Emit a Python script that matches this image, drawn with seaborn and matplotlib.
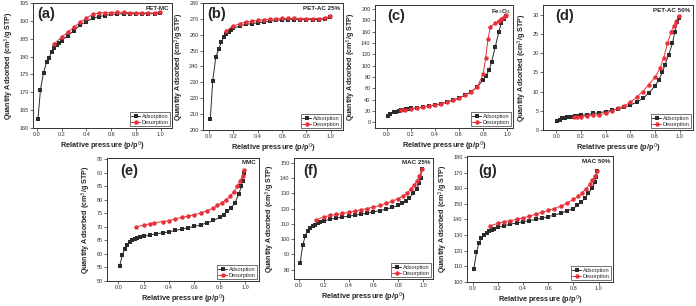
import matplotlib
matplotlib.use("Agg")
import matplotlib.pyplot as plt
import seaborn as sns

# (a) PET-MC
a_ads_x = [0.01, 0.03, 0.055, 0.08, 0.1, 0.12, 0.14, 0.16, 0.18, 0.2, 0.25, 0.3, 0.35, 0.4, 0.45, 0.5,
           0.55, 0.6, 0.65, 0.7, 0.75, 0.8, 0.85, 0.9, 0.95, 0.99]
a_ads_y = [162.5, 170.7, 175.5, 178.5, 179.7, 181.3, 182.3, 183.2, 183.8, 184.5, 185.8, 187.3, 188.8, 189.8,
           190.7, 191.2, 191.5, 191.8, 191.9, 192.0, 192.0, 192.0, 192.0, 192.0, 192.0, 192.3]
a_des_x = [0.14, 0.2, 0.25, 0.3, 0.35, 0.4, 0.45, 0.5, 0.55, 0.6, 0.65, 0.7, 0.75, 0.8, 0.85, 0.9, 0.95, 0.99]
a_des_y = [183.5, 185.5, 186.8, 188.2, 189.6, 190.8, 191.8, 192.2, 192.3, 192.3, 192.4, 192.4, 192.3, 192.3,
           192.2, 192.2, 192.2, 192.5]

# (b) PET-AC 25%
b_ads_x = a_ads_x
b_ads_y = [207, 231, 246, 251, 255.5, 258.5, 260.5, 262, 263, 264, 265.5, 266.5, 267, 267.5, 268, 268.5,
           269, 269.3, 269.5, 269.5, 269.5, 269.5, 269.5, 269.5, 270, 271]
b_des_x = a_des_x
b_des_y = [262.5, 265.5, 267, 268, 268.5, 269, 269.5, 269.8, 270, 270.3, 270.3, 270.3, 270.2, 270.2, 270.2,
           270.2, 270.5, 271.5]

# (c) Fe3O4
c_ads_x = [0.01, 0.03, 0.06, 0.08, 0.1, 0.12, 0.14, 0.16, 0.18, 0.2, 0.25, 0.3, 0.35, 0.4, 0.45, 0.5, 0.55,
           0.6, 0.65, 0.7, 0.75, 0.8, 0.82, 0.85, 0.87, 0.9, 0.93, 0.95, 0.97, 0.99]
c_ads_y = [12, 15, 18, 19, 20, 21, 22, 23, 24, 24.5, 25.5, 27, 29, 30.5, 32.5, 36, 39, 43, 48, 54, 62, 75,
           82, 92, 107, 133, 160, 175, 182, 188]
c_des_x = [0.12, 0.15, 0.2, 0.25, 0.3, 0.35, 0.4, 0.45, 0.5, 0.55, 0.6, 0.65, 0.7, 0.75, 0.8, 0.82, 0.84,
           0.86, 0.9, 0.93, 0.95, 0.97, 0.99]
c_des_y = [21, 22, 24, 25, 27, 29, 31, 33, 36, 39, 43, 48, 54, 62, 85, 113, 147, 169, 175, 179, 182, 185, 190]

# (d) PET-AC 50%
d_ads_x = [0.01, 0.03, 0.05, 0.07, 0.09, 0.11, 0.13, 0.15, 0.17, 0.2, 0.25, 0.3, 0.35, 0.4, 0.45, 0.5, 0.55,
           0.6, 0.65, 0.7, 0.75, 0.8, 0.83, 0.86, 0.88, 0.91, 0.94, 0.96, 0.98, 0.99]
d_ads_y = [2.3, 2.7, 3.0, 3.2, 3.3, 3.4, 3.5, 3.6, 3.7, 3.8, 4.0, 4.3, 4.5, 4.8, 5.1, 5.5, 5.9, 6.5, 7.2, 8.2,
           9.6, 11.5, 13, 15, 17, 19.5, 22.5, 25.5, 28, 29]
d_des_x = [0.14, 0.17, 0.2, 0.25, 0.3, 0.35, 0.4, 0.45, 0.5, 0.55, 0.6, 0.65, 0.7, 0.75, 0.8, 0.84, 0.87, 0.9,
           0.93, 0.95, 0.97, 0.99]
d_des_y = [3.3, 3.4, 3.5, 3.7, 3.8, 4.0, 4.3, 5.0, 5.6, 6.3, 7.2, 8.5, 10.0, 11.8, 13.8, 16, 18.8, 22.5, 25.5,
           27, 28.2, 29.7]

# (e) MMC
e_ads_x = [0.01, 0.03, 0.05, 0.07, 0.09, 0.11, 0.13, 0.15, 0.17, 0.2, 0.25, 0.3, 0.35, 0.4, 0.45, 0.5, 0.55,
           0.6, 0.65, 0.7, 0.75, 0.8, 0.83, 0.86, 0.89, 0.92, 0.95, 0.97, 0.98, 0.99]
e_ads_y = [55.5, 59.5, 62, 63.5, 64.3, 65, 65.5, 65.8, 66.2, 66.5, 67, 67.5, 67.8, 68.2, 68.7, 69.2, 69.7,
           70.2, 70.8, 71.5, 72.4, 73.5, 74.5, 75.8, 77, 79, 82, 85, 87, 90]
e_des_x = [0.14, 0.2, 0.25, 0.28, 0.35, 0.4, 0.45, 0.5, 0.55, 0.6, 0.65, 0.7, 0.75, 0.78, 0.82, 0.85, 0.88,
           0.91, 0.94, 0.96, 0.98, 0.99]
e_des_y = [70, 70.7, 71.2, 71.5, 72, 72.3, 73, 73.5, 74, 74.5, 75.2, 76, 77, 78, 79, 80, 81.3, 83, 85, 87,
           89, 91]

# (f) MAC 25%
f_ads_x = e_ads_x
f_ads_y = [84.5, 96, 102, 105.5, 107.5, 108.5, 109.5, 110.5, 111, 112, 113, 113.8, 114.5, 115, 115.7, 116.3,
           117, 117.8, 118.6, 119.5, 120.7, 122, 123.5, 125, 127, 130, 133, 137, 140, 146]
f_des_x = [0.14, 0.2, 0.25, 0.3, 0.35, 0.4, 0.45, 0.5, 0.55, 0.6, 0.65, 0.7, 0.75, 0.8, 0.84, 0.87, 0.9,
           0.93, 0.95, 0.97, 0.99]
f_des_y = [112.7, 114.5, 115.5, 116.2, 116.8, 117.5, 118.3, 119.2, 120, 121, 122, 123.3, 124.8, 126.5, 128.3,
           130, 132.5, 135.5, 138, 141, 145.5]

# (g) MAC 50%
g_ads_x = e_ads_x
g_ads_y = [108.5, 119, 125, 128, 130, 131.5, 132.5, 133.3, 134, 135, 136, 137, 137.8, 138.5, 139.3, 140,
           140.8, 141.8, 142.8, 144, 145.5, 147, 149, 151, 153.5, 157, 160, 164, 167, 171]
g_des_x = f_des_x
g_des_y = [136, 137.5, 138.5, 139.3, 140, 141, 142, 143.5, 144.5, 145.8, 147, 148.5, 150.5, 152.8, 155, 157,
           159.5, 162.5, 165, 167.5, 171]

sns.set_style("ticks")
plt.rcParams['font.family'] = ['Liberation Sans', 'DejaVu Sans']

W, H = 696, 306
fig = plt.figure(figsize=(W / 100, H / 100), dpi=100)


def make_axes(x0, x1, y0, y1):
    return fig.add_axes([x0 / W, 1 - y1 / H, (x1 - x0) / W, (y1 - y0) / H])


panels = [
    # letter, name, box (px), letter offset (px), ads, des, ylim, yticks, xlim
    ("(a)", "PET-MC", (33, 172, 3, 128), (4, 4), (a_ads_x, a_ads_y), (a_des_x, a_des_y),
     (160, 195), range(160, 196, 5), (-0.03, 1.09)),
    ("(b)", "PET-AC 25%", (203, 343, 3, 130), (4, 4), (b_ads_x, b_ads_y), (b_des_x, b_des_y),
     (200, 280), range(200, 281, 10), (-0.05, 1.1)),
    ("(c)", "Fe$_3$O$_4$", (375, 513, 5, 128), (12, 4), (c_ads_x, c_ads_y), (c_des_x, c_des_y),
     (-10, 207), range(0, 201, 20), (-0.096, 1.047)),
    ("(d)", "PET-AC 50%", (543, 693, 5, 130), (12, 4), (d_ads_x, d_ads_y), (d_des_x, d_des_y),
     (0, 32.5), range(0, 31, 5), (-0.107, 1.107)),
    ("(e)", "MMC", (107, 259, 158, 281), (13, 6), (e_ads_x, e_ads_y), (e_des_x, e_des_y),
     (50, 95.5), range(50, 96, 5), (-0.09, 1.11)),
    ("(f)", "MAC 25%", (294, 433, 158, 279), (9, 6), (f_ads_x, f_ads_y), (f_des_x, f_des_y),
     (74, 153), range(80, 151, 10), (-0.04, 1.08)),
    ("(g)", "MAC 50%", (467, 613, 156, 282), (11, 8), (g_ads_x, g_ads_y), (g_des_x, g_des_y),
     (100, 180.6), range(100, 181, 10), (-0.045, 1.115)),
]

for letter, name, box, off, ads, des, ylim, yticks, xlim in panels:
    ax = make_axes(*box)
    wpx = box[1] - box[0]
    hpx = box[3] - box[2]
    sns.lineplot(x=ads[0], y=ads[1], ax=ax, color='#2b2b2b', marker='s', markersize=3,
                 markeredgewidth=0, linewidth=0.7, label='Adsorption')
    sns.lineplot(x=des[0], y=des[1], ax=ax, color='#e8303a', marker='o', markersize=3.2,
                 markeredgewidth=0, linewidth=0.7, label='Desorption')
    ax.set_xlim(*xlim)
    ax.set_ylim(*ylim)
    ax.set_xticks([0.0, 0.2, 0.4, 0.6, 0.8, 1.0])
    ax.set_xticklabels(['0.0', '0.2', '0.4', '0.6', '0.8', '1.0'])
    ax.set_yticks(list(yticks))
    ax.tick_params(axis='both', labelsize=4, length=2, width=0.5, pad=1.2, colors='#333333')
    for s in ax.spines.values():
        s.set_linewidth(0.7)
        s.set_color('#333333')
    ax.set_xlabel("Relative pressure (p/p$^0$)", fontsize=5.3, fontweight='bold', labelpad=1.8)
    ax.set_ylabel("Quantity Adsorbed (cm$^3$/g STP)", fontsize=5.1, fontweight='bold', labelpad=2.5)
    ax.text(off[0] / wpx, 1 - off[1] / hpx, letter, transform=ax.transAxes, fontsize=10.5,
            fontweight='bold', va='top', ha='left')
    ax.text(0.98, 0.98, name, transform=ax.transAxes, fontsize=4.5, fontweight='bold',
            ha='right', va='top')
    leg = ax.legend(loc='lower right', fontsize=4, frameon=True, fancybox=False, borderpad=0.3,
                    handlelength=1.6, handletextpad=0.3, labelspacing=0.15, borderaxespad=0.3)
    leg.get_frame().set_edgecolor('#333333')
    leg.get_frame().set_linewidth(0.6)

fig.savefig("out.png", dpi=100)
